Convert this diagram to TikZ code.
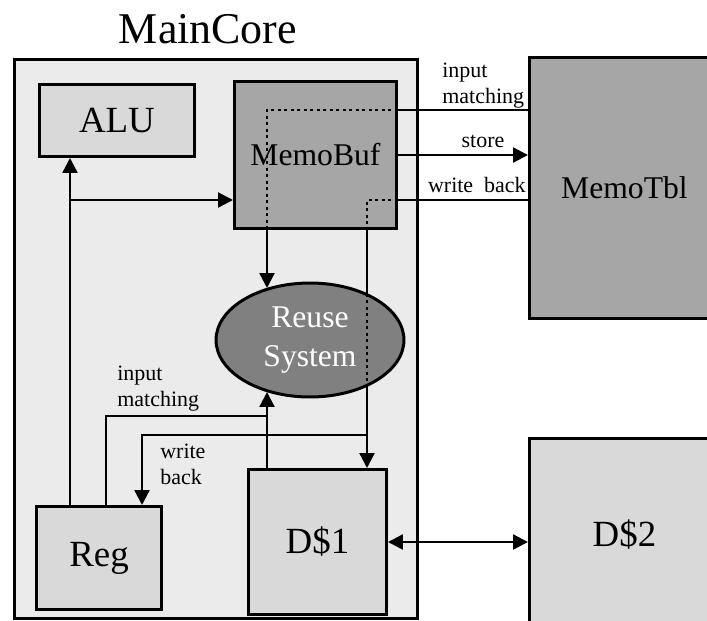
\documentclass[tikz,border=0pt]{standalone}
\usepackage{fontspec}
\setmainfont{Liberation Serif}
\usetikzlibrary{arrows.meta,shapes.geometric}
\definecolor{coregray}{HTML}{EBEBEB}
\definecolor{unitlight}{HTML}{D9D9D9}
\definecolor{unitdark}{HTML}{A6A6A6}
\definecolor{reusegray}{HTML}{808080}
\begin{document}
\begin{tikzpicture}[x=0.02cm,y=-0.02cm]
    \tikzstyle{every node}+=[inner sep=0pt]
    \tikzstyle{unit}=[draw, line width=1.7pt, anchor=north west]
    \tikzstyle{bigtxt}=[font=\fontsize{21}{25}\selectfont]
    \tikzstyle{midtxt}=[font=\fontsize{18}{22}\selectfont]
    \tikzstyle{lbl}=[font=\fontsize{12.5}{15}\selectfont]
    \tikzstyle{wire}=[line width=1.3pt]
    \tikzstyle{dots}=[line width=1.5pt, dash pattern=on 1.7pt off 2pt]
    \tikzstyle{arr}=[-{Triangle[length=8.5pt,width=8.5pt]}]
    \tikzstyle{arrs}=[{Triangle[length=8.5pt,width=8.5pt]}-{Triangle[length=8.5pt,width=8.5pt]}]
    \path[use as bounding box, clip] (0,0) rectangle (707,620);
    % units
    \node[unit, fill=coregray, minimum width=8.06cm, minimum height=11.18cm] (core) at (13,58) {};
    \node[font=\fontsize{25}{30}\selectfont] (title) at (208,29) {MainCore};
    \node[unit, bigtxt, fill=unitlight, minimum width=3.1cm, minimum height=1.44cm] (ALU) at (38,83) {ALU};
    \node[unit, midtxt, fill=unitdark, minimum width=3.24cm, minimum height=2.94cm] (MemoBuf) at (233,80) {MemoBuf};
    \node[unit, midtxt, fill=unitdark, minimum width=3.8cm, minimum height=5.22cm] (MemoTbl) at (528,56) {MemoTbl};
    \node[draw, ellipse, line width=1.7pt, midtxt, fill=reusegray, text=white, align=center,
          minimum width=3.76cm, minimum height=2.28cm] (Reuse) at (310,340) {Reuse\\System};
    \node[unit, bigtxt, fill=unitlight, minimum width=2.5cm, minimum height=2.06cm] (Reg) at (35,505) {Reg};
    \node[unit, bigtxt, fill=unitlight, minimum width=2.76cm, minimum height=2.9cm] (D1) at (247,468) {D\$1};
    \node[unit, bigtxt, fill=unitlight, minimum width=3.8cm, minimum height=3.86cm] (D2) at (528,437) {D\$2};
    % wire positions
    \coordinate (xbus) at (70,0);
    \coordinate (xim) at (106,0);
    \coordinate (xwb) at (142,0);
    \coordinate (xup) at (267,0);
    \coordinate (xdn) at (367,0);
    \coordinate (yim) at (0,110);
    \coordinate (yst) at (0,155);
    \coordinate (ywb) at (0,200);
    \coordinate (yin) at (0,416);
    \coordinate (yout) at (0,435);
    \coordinate (ydc) at (0,542);
    % Reg to ALU and MemoBuf
    \draw[wire,arr] (Reg.north -| xbus) -- (ALU.south -| xbus);
    \draw[wire,arr] (xbus |- ywb) -- (MemoBuf.west |- ywb);
    % MemoTbl side
    \draw[wire] (MemoTbl.west |- yim) -- (MemoBuf.east |- yim);
    \draw[dots] (MemoBuf.east |- yim) -- (xup |- yim) -- (xup |- MemoBuf.south);
    \draw[wire,arr] (xup |- MemoBuf.south) -- (xup |- Reuse.130);
    \draw[wire,arr] (MemoBuf.east |- yst) -- (MemoTbl.west |- yst);
    \draw[wire] (MemoTbl.west |- ywb) -- (MemoBuf.east |- ywb);
    \draw[dots] (MemoBuf.east |- ywb) -- (xdn |- ywb) -- (xdn |- MemoBuf.south);
    \draw[wire] (xdn |- MemoBuf.south) -- (xdn |- Reuse.38);
    \draw[dots] (xdn |- Reuse.38) -- (xdn |- Reuse.-38);
    \draw[wire,arr] (xdn |- Reuse.-38) -- (xdn |- D1.north);
    % Reg side
    \draw[wire,arr] (xdn |- yout) -- (xwb |- yout) -- (xwb |- Reg.north);
    \draw[wire] (Reg.north -| xim) -- (xim |- yin) -- (xup |- yin);
    \draw[wire,arr] (D1.north -| xup) -- (xup |- Reuse.230);
    \draw[wire,arrs] (D1.east |- ydc) -- (D2.west |- ydc);
    % labels
    \node[lbl, align=left, anchor=south west] (imtop) at (442,109) {input\\matching};
    \node[lbl, anchor=base] (sttop) at (483,147) {store};
    \node[lbl, anchor=base east] (wbtop) at (526,192) {write~~back};
    \node[lbl, align=left, anchor=south west] (imlow) at (117,412) {input\\matching};
    \node[lbl, align=left, anchor=south west] (wblow) at (160,485) {write\\back};
\end{tikzpicture}
\end{document}
